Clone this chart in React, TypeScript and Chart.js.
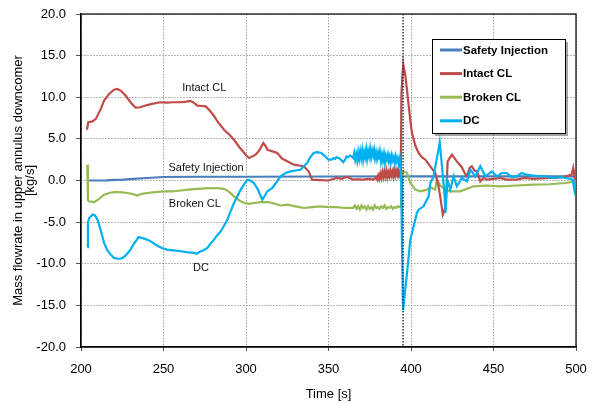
import React, { useEffect, useRef } from 'react';
import { Chart, registerables } from 'chart.js';

Chart.register(...registerables);

// ---- Data: [time (s), mass flowrate (kg/s)] ----
const seriesLabels = ['Safety Injection', 'Intact CL', 'Broken CL', 'DC'];
const seriesColors = ['#4A7EBB', '#BE4B48', '#98B954', '#00B0F0'];

const xTickValues = [200, 250, 300, 350, 400, 450, 500];
const yTickValues = [-20, -15, -10, -5, 0, 5, 10, 15, 20];

const eventTime = 395.2;

const siSeries: [number, number][] = [
  [204, 0.0], [215, 0.02], [225, 0.1], [232, 0.2], [240, 0.3], [250, 0.42], [270, 0.45], [300, 0.45],
  [350, 0.48], [395, 0.5], [450, 0.5], [500, 0.5],
];

const intactSeries: [number, number][] = [
  [203.6, 6.1], [204.4, 7.0], [207, 7.1], [209, 7.4], [212, 8.6], [214, 9.6], [217, 10.4], [220, 10.9],
  [222, 11.0], [224, 10.8], [227, 10.2], [230, 9.4], [233, 8.75], [236, 8.8], [238, 8.95], [243, 9.2],
  [248, 9.4], [252, 9.35], [256, 9.4], [260, 9.4], [263, 9.45], [266, 9.55], [268, 9.4], [270.5, 9.0],
  [273, 8.95], [275.6, 8.9], [278, 8.4], [280.6, 7.75], [283, 7.0], [286.7, 6.1], [290, 5.5], [292.7, 4.9],
  [296, 4.0], [299.8, 3.1], [301.8, 2.7], [304, 2.9], [305.8, 3.1], [308, 3.6], [310.5, 4.5], [312, 4.1],
  [312.9, 3.7], [316, 3.5], [319, 3.3], [322, 2.6], [325, 2.3], [329, 1.9], [332, 1.8], [335, 1.7],
  [338, 1.1], [340, 0.1], [345, 0.05], [350, 0.0], [355, 0.3], [358, 0.2], [361, 0.45], [365, 0.1],
  [368, 0.15], [371, 0.1], [374, 0.2], [377, 0.1],
  [378, 0.2], [379, 0.4], [379.6, 0.1], [380.2, 0.6], [380.8, 0.2], [381.4, 0.8], [382, 0.3], [382.6, 1.0],
  [383.2, 0.4], [383.8, 1.1], [384.4, 0.5], [385, 1.2], [385.6, 0.4], [386.2, 1.0], [386.8, 0.5], [387.4, 1.2],
  [388, 0.6], [388.6, 1.1], [389.2, 0.5], [389.8, 1.3], [390.4, 0.6], [391, 1.2], [391.6, 0.7], [392.2, 1.3],
  [392.8, 0.6], [393.4, 1.0], [393.8, 0.5],
  [394.2, 10.5], [394.8, 12.5], [395.3, 14.0], [396, 13.2], [396.6, 12.6], [397.6, 10.8], [398.6, 9.0],
  [399.6, 7.2], [400.6, 5.7], [402.6, 4.2], [404.6, 3.3], [406.6, 2.8], [408.7, 2.5], [411.7, 1.7],
  [414.7, 0.9], [416.5, -0.5], [417.7, -1.9], [419.3, -4.1], [420.8, -3.3], [421.5, -1.0], [422.2, 2.3],
  [424.8, 3.1], [427.8, 2.3], [430.8, 1.6], [432.5, 0.9], [433.9, 0.5], [435.5, 1.5], [436.9, 1.7],
  [438.5, 1.2], [440, 1.1], [442, -0.1], [444, 0.3], [446, 0.1], [450, 0.2], [454, 0.3], [458, 0.1],
  [464, 0.1], [469, 0.3], [474, 0.2], [479, 0.25], [484, 0.3], [489, 0.35], [494, 0.5], [497.3, 0.7],
  [498.3, 1.5], [499, 0.5], [500, 1.3],
];

const brokenSeries: [number, number][] = [
  [203.8, 1.9], [204.2, -2.3], [204.6, -2.5], [208, -2.6], [211, -2.2], [214, -1.7], [217, -1.5], [220, -1.4],
  [224, -1.4], [228, -1.5], [231, -1.6], [234, -1.8], [237, -1.6], [240, -1.5], [245, -1.4], [250, -1.3],
  [255, -1.3], [260.5, -1.2], [265, -1.1], [270.5, -1.0], [275, -0.95], [280.6, -0.9], [284, -0.95],
  [286.7, -1.0], [290, -1.4], [292.7, -1.9], [296, -2.4], [298.8, -2.7], [302, -2.8], [304.8, -2.7],
  [309, -2.6], [312.9, -2.6], [316, -2.7], [321, -3.0], [325, -2.9], [330, -3.1], [335, -3.3], [340, -3.2],
  [345, -3.1], [350, -3.2], [355, -3.2], [360, -3.3],
  [365, -3.3], [366, -3.0], [367, -3.4], [368, -3.1], [369, -3.5], [370, -3.0], [371, -3.3], [372, -3.1],
  [373, -3.5], [374, -3.1], [375, -3.4], [376, -3.2], [377, -3.5], [378, -3.0], [379, -3.3], [380, -3.2],
  [381, -3.4], [382, -3.1], [383, -3.3], [384, -3.0], [385, -3.4], [386, -3.2], [387, -3.3], [388, -3.1],
  [389, -3.4], [390, -3.2], [391, -3.3], [392, -3.1], [393, -3.2], [394, -3.0],
  [394.6, 0.9], [395.6, 1.1], [397.6, 0.9], [399.6, -0.3], [402.6, -1.1], [405.7, -1.3], [409.7, -1.1],
  [411.7, -0.8], [414.7, -1.1], [415.7, 0.1], [417.7, -0.6], [420.8, -1.1], [423.8, -1.3], [429.8, -1.3],
  [433.9, -1.0], [437.9, -0.7], [446, -0.6], [454, -0.7], [464, -0.6], [474, -0.5], [484, -0.45],
  [494, -0.3], [499, -0.1], [500, -0.2],
];

const dcSeries: [number, number][] = [
  [203.8, -8.0], [204.2, -5.0], [205, -4.5], [207, -4.1], [208.5, -4.2], [210, -4.7], [212, -6.0], [214, -7.5],
  [216, -8.4], [218, -8.9], [220, -9.3], [222, -9.4], [224, -9.4], [226, -9.2], [228, -8.8], [230, -8.3],
  [232, -7.6], [235, -6.8], [237, -6.9], [240, -7.1], [243, -7.4], [246, -7.8], [249, -8.1], [252, -8.3],
  [256, -8.4], [260.5, -8.5], [264, -8.6], [268.5, -8.7], [270, -8.8], [272.6, -8.5], [274, -8.4],
  [276.6, -8.1], [278, -7.7], [280.6, -7.1], [282.5, -6.6], [284.7, -6.1], [286.5, -5.5], [288.7, -4.7],
  [290.5, -3.8], [292.7, -2.7], [295, -1.8], [296.8, -1.1], [299, -0.4], [300.8, 0.1], [302.5, 0.0],
  [304.8, -0.3], [307, -1.0], [309.9, -2.3], [311.5, -1.8], [312.9, -1.3], [316, -0.9], [318.5, -0.2],
  [321, 0.5], [324, 0.9], [327, 1.1], [330, 1.2], [333, 1.3], [335, 1.7], [337, 2.1], [339, 2.8], [341, 3.3],
  [343, 3.4], [345.6, 3.3], [348, 2.9], [350, 2.5],
  [352, 2.5], [353, 2.7], [354, 2.6], [355, 2.8], [356, 2.7], [357, 2.6], [358, 2.4], [359, 2.2], [360, 2.5],
  [361, 2.9], [362, 2.8], [363, 3.0], [364, 2.9], [365, 2.7], [365.6, 3.3], [366.2, 2.5], [366.8, 3.1],
  [367.4, 2.4], [368, 3.4], [368.6, 2.6], [369.2, 3.5], [369.8, 2.7], [370.4, 3.6], [371, 2.5], [371.6, 3.4],
  [372.2, 2.8], [372.8, 3.7], [373.4, 2.6], [374, 3.5], [374.6, 2.9], [375.2, 3.8], [375.8, 2.8], [376.4, 3.6],
  [377, 3.0], [377.6, 3.7], [378.2, 2.7], [378.8, 3.4], [379.4, 2.6], [380, 3.3], [380.6, 2.5], [381.2, 3.4],
  [381.8, 2.3], [382.4, 3.1], [383, 2.4], [383.6, 3.2], [384.2, 2.2], [384.8, 3.0], [385.4, 2.5], [386, 3.1],
  [386.6, 2.3], [387.2, 2.9], [387.8, 2.2], [388.4, 3.0], [389, 2.4], [389.6, 2.8], [390.2, 2.1], [390.8, 2.9],
  [391.4, 2.3], [392, 2.7], [392.6, 2.0], [393.2, 2.6], [393.6, 1.8],
  [394, 0.5], [394.5, -7.1], [395.2, -15.6], [396.3, -13.5], [397.6, -11.1], [399.6, -7.1], [401.6, -5.5],
  [403.6, -3.9], [404.6, -3.5], [407.6, -3.1], [410.7, -1.9], [411.7, -0.3], [413.7, 0.5], [414.7, 1.7],
  [416.5, 3.5], [417.4, 4.6], [418.6, 2.1], [420.4, -1.9], [420.9, -3.9], [422, 0.1], [423.8, -1.1],
  [425.8, 0.5], [427.8, -0.7], [430.8, 0.3], [433.9, -0.1], [436, 1.3], [439, 0.5], [442, 1.7], [445, 0.5],
  [449, 1.1], [452, 0.5], [455, 0.9], [458, 0.9], [461, 0.4], [464, 0.5], [467, 0.9], [470, 0.7], [474, 0.6],
  [478, 0.5], [482, 0.5], [486, 0.3], [490, 0.4], [494, 0.3], [498, 0.1], [499, -1.1], [500, 0.1],
];

// In-plot annotations (data coordinates)
const annotationTexts = ['Intact CL', 'Safety Injection', 'Broken CL', 'DC'];
const annotationTimes = [274.7, 275.8, 269.0, 272.7];
const annotationValues = [11.1, 1.47, -2.86, -10.5];

const FONT = "'Liberation Sans', Arial, Helvetica, sans-serif";

export default function App() {
  const ref = useRef<HTMLCanvasElement>(null);

  useEffect(() => {
    if (!ref.current) return;
    const pts = (s: [number, number][]) => s.map(([x, y]) => ({ x, y }));
    const seriesData = [pts(siSeries), pts(intactSeries), pts(brokenSeries), pts(dcSeries)];
    const orders = [3, 1, 2, 0];

    const framePlugin = {
      id: 'frame',
      beforeDatasetsDraw(chart: any) {
        const { ctx, chartArea: a } = chart;
        ctx.save();
        ctx.strokeStyle = '#000';
        ctx.lineWidth = 1.2;
        ctx.setLineDash([]);
        ctx.strokeRect(a.left, a.top, a.right - a.left, a.bottom - a.top);
        ctx.restore();
      },
      afterDatasetsDraw(chart: any) {
        const { ctx, chartArea: a, scales } = chart;
        const x = scales.x.getPixelForValue(eventTime);
        ctx.save();
        ctx.strokeStyle = '#1F3864';
        ctx.lineWidth = 1.5;
        ctx.setLineDash([1.5, 1.5]);
        ctx.beginPath();
        ctx.moveTo(x, a.top);
        ctx.lineTo(x, a.bottom);
        ctx.stroke();
        ctx.restore();
        ctx.save();
        ctx.font = `11px ${FONT}`;
        ctx.fillStyle = '#111';
        ctx.textAlign = 'center';
        ctx.textBaseline = 'middle';
        annotationTexts.forEach((t, i) => {
          ctx.fillText(t, scales.x.getPixelForValue(annotationTimes[i]), scales.y.getPixelForValue(annotationValues[i]));
        });
        ctx.restore();
      },
      afterDraw(chart: any) {
        const { ctx } = chart;
        const bx = 432, by = 39, bw = 133, bh = 94;
        ctx.save();
        ctx.fillStyle = 'rgba(0,0,0,0.35)';
        ctx.fillRect(bx + 3, by + 3, bw, bh);
        ctx.fillStyle = '#fff';
        ctx.fillRect(bx, by, bw, bh);
        ctx.strokeStyle = '#000';
        ctx.lineWidth = 1;
        ctx.strokeRect(bx + 0.5, by + 0.5, bw, bh);
        ctx.font = `bold 11.5px ${FONT}`;
        ctx.textBaseline = 'middle';
        ctx.textAlign = 'left';
        chart.data.datasets.forEach((ds: any, i: number) => {
          const y = 50 + i * 23.6;
          ctx.strokeStyle = ds.borderColor;
          ctx.lineWidth = 3;
          ctx.beginPath();
          ctx.moveTo(440, y);
          ctx.lineTo(462, y);
          ctx.stroke();
          ctx.fillStyle = '#000';
          ctx.fillText(ds.label, 463, y + 0.5);
        });
        ctx.restore();
      },
    };

    const chart = new Chart(ref.current, {
      type: 'line',
      data: {
        datasets: seriesLabels.map((label, i) => ({
          label,
          data: seriesData[i],
          borderColor: seriesColors[i],
          backgroundColor: seriesColors[i],
          borderWidth: 2.2,
          pointRadius: 0,
          tension: 0,
          fill: false,
          order: orders[i],
        })),
      },
      options: {
        responsive: false,
        animation: false,
        layout: { padding: { top: 14, right: 19, left: 0, bottom: 0 } },
        plugins: { legend: { display: false }, tooltip: { enabled: false } },
        scales: {
          x: {
            type: 'linear',
            min: 200,
            max: 500,
            afterFit: (s: any) => {
              s.height = 56;
              s.paddingLeft = 0;
              s.paddingRight = 0;
            },
            afterBuildTicks: (s: any) => { s.ticks = xTickValues.map((v) => ({ value: v })); },
            ticks: {
              font: { family: FONT, size: 13 },
              color: '#000',
              padding: 11,
              maxRotation: 0,
              callback: (v: any) => String(v),
            },
            grid: { color: '#A0A0A0', lineWidth: 1, tickColor: '#555', tickLength: 4, tickWidth: 1 },
            border: { display: true, color: '#000', width: 1.2, dash: [1.5, 1.5] },
            title: { display: true, text: 'Time [s]', font: { family: FONT, size: 13 }, color: '#000', padding: { top: 0, bottom: 1 } },
          },
          y: {
            type: 'linear',
            min: -20,
            max: 20,
            afterFit: (s: any) => {
              s.width = 81;
              s.paddingTop = 0;
              s.paddingBottom = 0;
            },
            afterBuildTicks: (s: any) => { s.ticks = yTickValues.map((v) => ({ value: v })); },
            ticks: {
              font: { family: FONT, size: 13 },
              color: '#000',
              padding: 10,
              callback: (v: any) => Number(v).toFixed(1),
            },
            grid: { color: '#A0A0A0', lineWidth: 1, tickColor: '#555', tickLength: 5, tickWidth: 1 },
            border: { display: true, color: '#000', width: 1.2, dash: [1.5, 1.5] },
            title: {
              display: true,
              text: ['Mass flowrate in upper annulus downcomer', '[kg/s]'],
              font: { family: FONT, size: 13, lineHeight: 0.95 },
              color: '#000',
              padding: { top: 12, bottom: 0 },
            },
          },
        },
      },
      plugins: [framePlugin],
    } as any);
    return () => chart.destroy();
  }, []);

  return (
    <div style={{ position: 'absolute', left: 0, top: 0, width: 595, height: 403, background: '#fff' }}>
      <canvas ref={ref} width={595} height={403} style={{ display: 'block' }} />
    </div>
  );
}
